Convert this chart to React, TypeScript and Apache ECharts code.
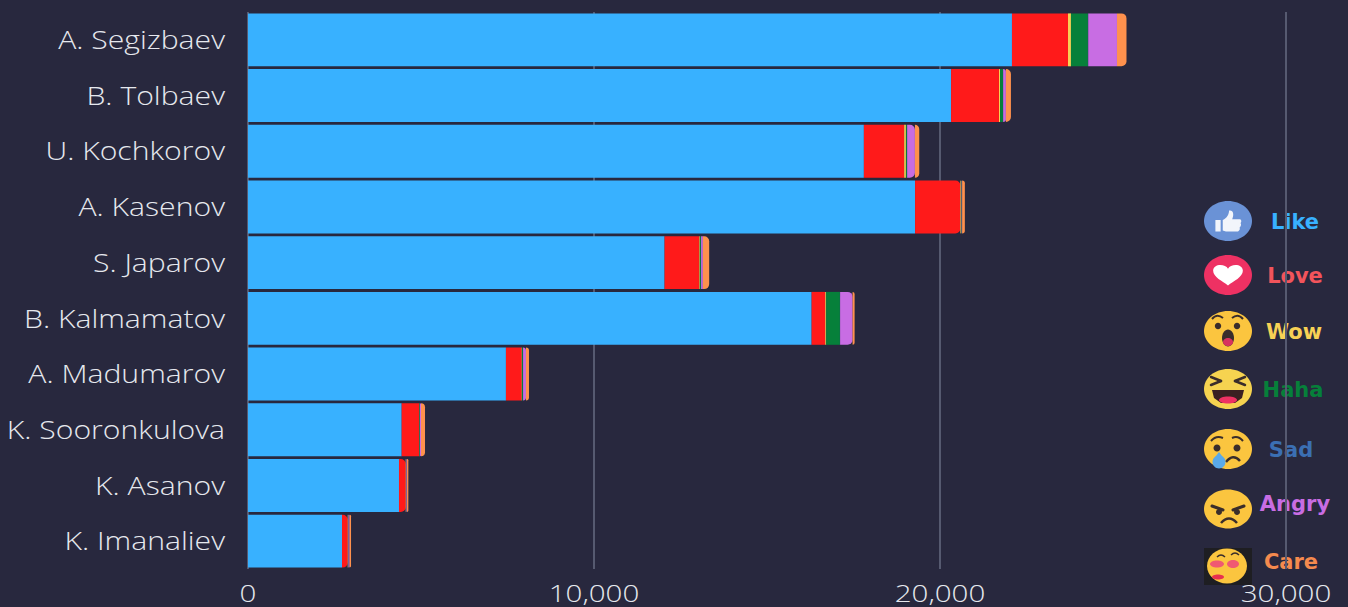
import React, { useEffect, useRef } from "react";
import * as echarts from "echarts";

const categories = ["A. Segizbaev", "B. Tolbaev", "U. Kochkorov", "A. Kasenov", "S. Japarov", "B. Kalmamatov", "A. Madumarov", "K. Sooronkulova", "K. Asanov", "K. Imanaliev"];
const like = [22080, 20320, 17800, 19280, 12040, 16290, 7455, 4442, 4364, 2717];
const love = [1620, 1385, 1165, 1310, 1000, 393, 454, 500, 194, 165];
const wow = [85, 30, 50, 20, 20, 29, 9, 9, 9, 9];
const haha = [490, 85, 30, 15, 30, 396, 29, 14, 9, 9];
const sad = [10, 5, 5, 3, 5, 5, 3, 6, 3, 3];
const angry = [830, 80, 225, 12, 52, 361, 84, 29, 17, 32];
const care = [275, 145, 125, 78, 182, 58, 87, 116, 38, 43];
const seriesNames = ["Like", "Love", "Wow", "Haha", "Sad", "Angry", "Care"];
const seriesValues = [like, love, wow, haha, sad, angry, care];
const seriesColors = ["#38b1ff", "#ff1a1a", "#f7d155", "#06803a", "#3b6fb3", "#c86de3", "#ff914d"];
const legendTextColors = ["#38b1ff", "#f2545b", "#f7d155", "#06803a", "#3b6fb3", "#c86de3", "#f58a4e"];
const xTickLabels = ["0", "10,000", "20,000", "30,000"];

const BG = "#28283e";
const HEART = "M0 -5 C-2 -10 -11 -10 -11 -3 C-11 3 -4 7 0 11 C4 7 11 3 11 -3 C11 -10 2 -10 0 -5 Z";
const THUMB = "M-12 -2 L-7 -2 L-7 10 L-12 10 Z M-5 -2 C-1 -4 1 -8 1 -12 C5 -13 6 -8 4 -3 L11 -3 C13 -3 13 0 12 1 C13 3 12 5 11 6 C12 8 10 10 9 10 L-2 10 L-5 9 Z";
echarts.graphic.registerShape("legendHeart", echarts.graphic.extendPath(HEART, {}));
echarts.graphic.registerShape("legendThumb", echarts.graphic.extendPath(THUMB, {}));

const YELLOW = "#fbc53f";
const DARK = "#3a2d2b";
const emojiY = [221, 275, 331, 389, 449, 509, 566];
const textY = [222, 276, 332, 390, 450, 504, 562];
const textX = [1295, 1295, 1294, 1293, 1291, 1295, 1291];
const EX = 1228;

const ell = (cx: number, cy: number, rx: number, ry: number, fill: string) => ({ type: "ellipse", shape: { cx, cy, rx, ry }, style: { fill } });
const arcLine = (x1: number, y1: number, cx: number, cy: number, x2: number, y2: number, stroke: string, lineWidth = 2) => ({
  type: "bezierCurve",
  shape: { x1, y1, cpx1: cx, cpy1: cy, x2, y2 },
  style: { stroke, lineWidth, fill: "none" },
});
const line = (x1: number, y1: number, x2: number, y2: number, stroke: string, lineWidth = 2.5) => ({
  type: "line",
  shape: { x1, y1, x2, y2 },
  style: { stroke, lineWidth, lineCap: "round" },
});

function emojiGraphics(): any[] {
  const [a, b, c, d, e, f, g] = emojiY;
  return [
    // Like
    ell(EX, a, 24, 20, "#6a92d6"),
    { type: "legendThumb", x: EX, y: a + 1, scaleX: 1.05, scaleY: 0.95, style: { fill: "#f2f5fb" } },
    // Love
    ell(EX, b, 24, 20, "#ee3163"),
    { type: "legendHeart", x: EX, y: b - 1, scaleX: 1.35, scaleY: 1.05, style: { fill: "#ffffff" } },
    // Wow
    ell(EX, c, 24, 20, "#fbc53f"),
    ell(EX - 10, c - 5, 3.2, 3.2, DARK),
    ell(EX + 9, c - 5, 3.2, 3.2, DARK),
    arcLine(EX - 16, c - 12, EX - 11, c - 18, EX - 5, c - 13, DARK),
    arcLine(EX + 4, c - 13, EX + 10, c - 18, EX + 15, c - 12, DARK),
    ell(EX, c + 7, 6, 8.5, "#3a2d2b"),
    ell(EX, c + 11, 5, 4, "#d8335e"),
    // Haha
    ell(EX, d, 24, 20, "#f6d350"),
    line(EX - 17, d - 12, EX - 7, d - 8, DARK),
    line(EX - 17, d - 4, EX - 7, d - 8, DARK),
    line(EX + 17, d - 12, EX + 7, d - 8, DARK),
    line(EX + 17, d - 4, EX + 7, d - 8, DARK),
    {
      type: "polygon",
      shape: { points: [[EX - 16, d + 1], [EX + 16, d + 1], [EX + 14, d + 9], [EX + 7, d + 14], [EX - 7, d + 14], [EX - 14, d + 9]] },
      style: { fill: "#3a2022" },
    },
    ell(EX, d + 11, 9, 3.5, "#ee3163"),
    // Sad
    ell(EX, e, 24, 20, YELLOW),
    ell(EX - 11, e - 1, 3.5, 3.5, DARK),
    ell(EX + 9, e - 1, 3.5, 3.5, DARK),
    arcLine(EX - 17, e - 8, EX - 12, e - 14, EX - 5, e - 11, DARK),
    arcLine(EX + 4, e - 11, EX + 10, e - 14, EX + 15, e - 8, DARK),
    arcLine(EX - 2, e + 13, EX + 5, e + 4, EX + 12, e + 12, DARK, 2.5),
    { type: "polygon", shape: { points: [[EX - 9, e + 3], [EX - 3, e + 11], [EX - 15, e + 11]] }, style: { fill: "#5aa9e8" } },
    ell(EX - 9, e + 13, 6.5, 6.5, "#5aa9e8"),
    // Angry
    ell(EX, f, 24, 19.5, YELLOW),
    line(EX - 16, f - 3, EX - 5, f + 1, DARK, 3),
    line(EX + 16, f - 3, EX + 5, f + 1, DARK, 3),
    ell(EX - 9, f + 3, 3, 3, DARK),
    ell(EX + 9, f + 3, 3, 3, DARK),
    arcLine(EX - 7, f + 14, EX + 1, f + 5, EX + 9, f + 14, DARK, 2.5),
    // Care
    { type: "rect", shape: { x: EX - 24, y: g - 18, width: 48, height: 37 }, style: { fill: "#1e1e22" } },
    ell(EX - 1, g, 20, 17.5, "#fbc53f"),
    arcLine(EX - 11, g - 9, EX - 7, g - 13, EX - 3, g - 9, DARK, 1.5),
    arcLine(EX + 3, g - 11, EX + 7, g - 15, EX + 11, g - 11, DARK, 1.5),
    ell(EX - 11, g - 2, 7, 3.5, "#f05a72"),
    ell(EX + 5, g - 2, 6, 4, "#f05a72"),
    ell(EX - 10, g + 11, 6, 2.5, "#e8304f"),
    // the legend sits over the end of the last grid line
    { type: "rect", shape: { x: 1283, y: 556, width: 6, height: 14 }, style: { fill: BG } },
  ];
}

function legendTexts(): any[] {
  return seriesNames.map((name, i) => ({
    type: "text",
    x: textX[i],
    y: textY[i],
    style: {
      text: name,
      fill: legendTextColors[i],
      font: 'bold 21px "DejaVu Sans"',
      align: "center",
      verticalAlign: "middle",
    },
  }));
}

const ROUND_THRESHOLD = 150;
const CATEGORY_STRETCH = 1.16;
const TICK_STRETCH = 1.23;

// The reference's texts are wider than any installed font: stretch them about their anchor.
function stretchLabels(root: HTMLElement) {
  root.querySelectorAll("text").forEach((el) => {
    const t = el.textContent || "";
    const isCategory = categories.includes(t);
    const s = isCategory ? CATEGORY_STRETCH : xTickLabels.includes(t) ? TICK_STRETCH : 0;
    if (!s) return;
    const x = Number(el.getAttribute("x")) || 0;
    const y = Number(el.getAttribute("y")) || 0;
    const base = el.getAttribute("transform") || "";
    const lift = isCategory ? -1 : 0;
    el.setAttribute("transform", `${base} translate(${x} ${y + lift}) scale(${s} 1) translate(${-x} ${-y})`);
  });
}

export default function App() {
  const ref = useRef<HTMLDivElement>(null);
  useEffect(() => {
    const chart = echarts.init(ref.current!, null, { renderer: "svg" });
    chart.setOption({
      animation: false,
      backgroundColor: BG,
      grid: { left: 248, top: 12, width: 1038, height: 557, containLabel: false },
      xAxis: {
        type: "value",
        min: 0,
        max: 30000,
        interval: 10000,
        axisLine: { show: false },
        axisTick: { show: false },
        splitLine: { lineStyle: { color: "#565a70", width: 2 } },
        axisLabel: {
          color: "#e6e8ee",
          fontFamily: '"Open Sans"',
          fontWeight: 300,
          fontSize: 24,
          margin: 12,
          hideOverlap: false,
          showMaxLabel: true,
          formatter: (v: number) => v.toLocaleString("en-US"),
        },
      },
      yAxis: {
        type: "category",
        inverse: true,
        data: categories,
        axisLine: { show: false },
        axisTick: { show: false },
        splitLine: { show: false },
        axisLabel: {
          color: "#e6e8ee",
          fontFamily: '"Open Sans"',
          fontWeight: 300,
          fontSize: 26,
          margin: 23,
          interval: 0,
        },
      },
      series: seriesNames.map((name, s) => ({
        type: "bar",
        name,
        stack: "reactions",
        barWidth: "95%",
        itemStyle: { color: seriesColors[s] },
        data: seriesValues[s].map((value, i) => {
          let rest = 0;
          for (let k = s + 1; k < seriesValues.length; k++) rest += seriesValues[k][i];
          return rest < ROUND_THRESHOLD
            ? { value, itemStyle: { borderRadius: [0, 5, 5, 0] } }
            : { value };
        }),
      })),
      graphic: { elements: [...emojiGraphics(), ...legendTexts()] },
    });
    stretchLabels(ref.current!);
    return () => chart.dispose();
  }, []);
  return <div ref={ref} style={{ position: "absolute", left: 0, top: 0, width: 1348, height: 607 }} />;
}
